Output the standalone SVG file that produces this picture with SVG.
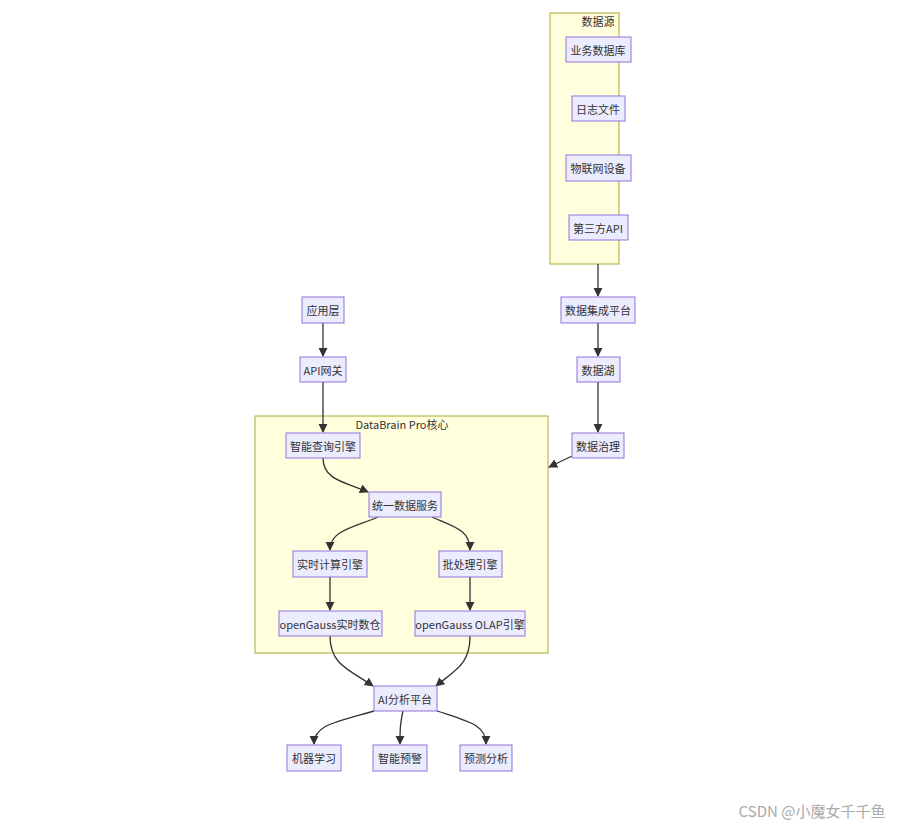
<svg xmlns="http://www.w3.org/2000/svg" width="899" height="825" viewBox="0 0 899 825">
<style>
text{font-family:"Noto Sans CJK SC","Liberation Sans",sans-serif;font-size:11px;fill:#333;text-anchor:middle;dominant-baseline:central}
.n rect{fill:#ECECFF;stroke:#9370DB;stroke-width:1}
.c{fill:#FFFFDE;stroke:#AAAA33;stroke-width:1}
.e path{fill:none;stroke:#333;stroke-width:1.3}
</style>
<defs><marker id="a" viewBox="0 0 10 10" refX="9" refY="5" markerWidth="7" markerHeight="7" orient="auto"><path d="M0,0L10,5L0,10z" fill="#333"/></marker></defs>
<rect width="899" height="825" fill="#fff"/>
<g id="cluster-src"><rect class="c" x="550" y="13" width="69" height="251"/><text x="598" y="21">数据源</text></g>
<g id="cluster-core"><rect class="c" x="255" y="416" width="293" height="237"/><text x="402" y="424">DataBrain Pro核心</text></g>
<g class="e" marker-end="url(#a)">
<path d="M598,264V296" marker-end="url(#a)"/>
<path d="M598,323V356" marker-end="url(#a)"/>
<path d="M598,382V432" marker-end="url(#a)"/>
<path d="M572,456L549,467" marker-end="url(#a)"/>
<path d="M323,323V356" marker-end="url(#a)"/>
<path d="M323,382V432" marker-end="url(#a)"/>
<path d="M323,458C323,480 345,482 368,492" marker-end="url(#a)"/>
<path d="M378,517C355,527 330,530 330,550" marker-end="url(#a)"/>
<path d="M432,517C455,527 470,530 470,550" marker-end="url(#a)"/>
<path d="M330,577V610" marker-end="url(#a)"/>
<path d="M470,577V610" marker-end="url(#a)"/>
<path d="M330,636C330,665 350,670 373,686" marker-end="url(#a)"/>
<path d="M470,636C470,665 455,670 436,686" marker-end="url(#a)"/>
<path d="M374,711C335,722 314,725 314,744" marker-end="url(#a)"/>
<path d="M403,711C400,725 400,730 400,744" marker-end="url(#a)"/>
<path d="M437,711C470,722 486,725 486,744" marker-end="url(#a)"/>
</g>
<g class="n" id="n1"><rect x="566" y="37" width="65" height="25"/><text x="598" y="50">业务数据库</text></g>
<g class="n" id="n2"><rect x="572" y="96" width="53" height="25"/><text x="598" y="109">日志文件</text></g>
<g class="n" id="n3"><rect x="566" y="155" width="65" height="26"/><text x="598" y="168">物联网设备</text></g>
<g class="n" id="n4"><rect x="569" y="215" width="59" height="25"/><text x="598" y="228">第三方API</text></g>
<g class="n" id="n5"><rect x="561" y="297" width="74" height="26"/><text x="598" y="310">数据集成平台</text></g>
<g class="n" id="n6"><rect x="577" y="357" width="43" height="25"/><text x="598" y="370">数据湖</text></g>
<g class="n" id="n7"><rect x="572" y="433" width="52" height="25"/><text x="598" y="446">数据治理</text></g>
<g class="n" id="n8"><rect x="302" y="297" width="42" height="26"/><text x="323" y="310">应用层</text></g>
<g class="n" id="n9"><rect x="300" y="357" width="46" height="25"/><text x="323" y="370">API网关</text></g>
<g class="n" id="n10"><rect x="286" y="433" width="74" height="25"/><text x="323" y="446">智能查询引擎</text></g>
<g class="n" id="n11"><rect x="369" y="492" width="72" height="25"/><text x="405" y="505">统一数据服务</text></g>
<g class="n" id="n12"><rect x="293" y="551" width="74" height="26"/><text x="330" y="564">实时计算引擎</text></g>
<g class="n" id="n13"><rect x="439" y="551" width="63" height="26"/><text x="470" y="564">批处理引擎</text></g>
<g class="n" id="n14"><rect x="279" y="611" width="103" height="25"/><text x="330" y="624">openGauss实时数仓</text></g>
<g class="n" id="n15"><rect x="415" y="611" width="110" height="25"/><text x="470" y="624">openGauss OLAP引擎</text></g>
<g class="n" id="n16"><rect x="374" y="686" width="63" height="25"/><text x="405" y="699">AI分析平台</text></g>
<g class="n" id="n17"><rect x="287" y="745" width="54" height="26"/><text x="314" y="758">机器学习</text></g>
<g class="n" id="n18"><rect x="373" y="745" width="54" height="26"/><text x="400" y="758">智能预警</text></g>
<g class="n" id="n19"><rect x="460" y="745" width="52" height="26"/><text x="486" y="758">预测分析</text></g>
<text x="812" y="810" style="font-size:15px;fill:#aaa">CSDN @小魔女千千鱼</text>
</svg>
